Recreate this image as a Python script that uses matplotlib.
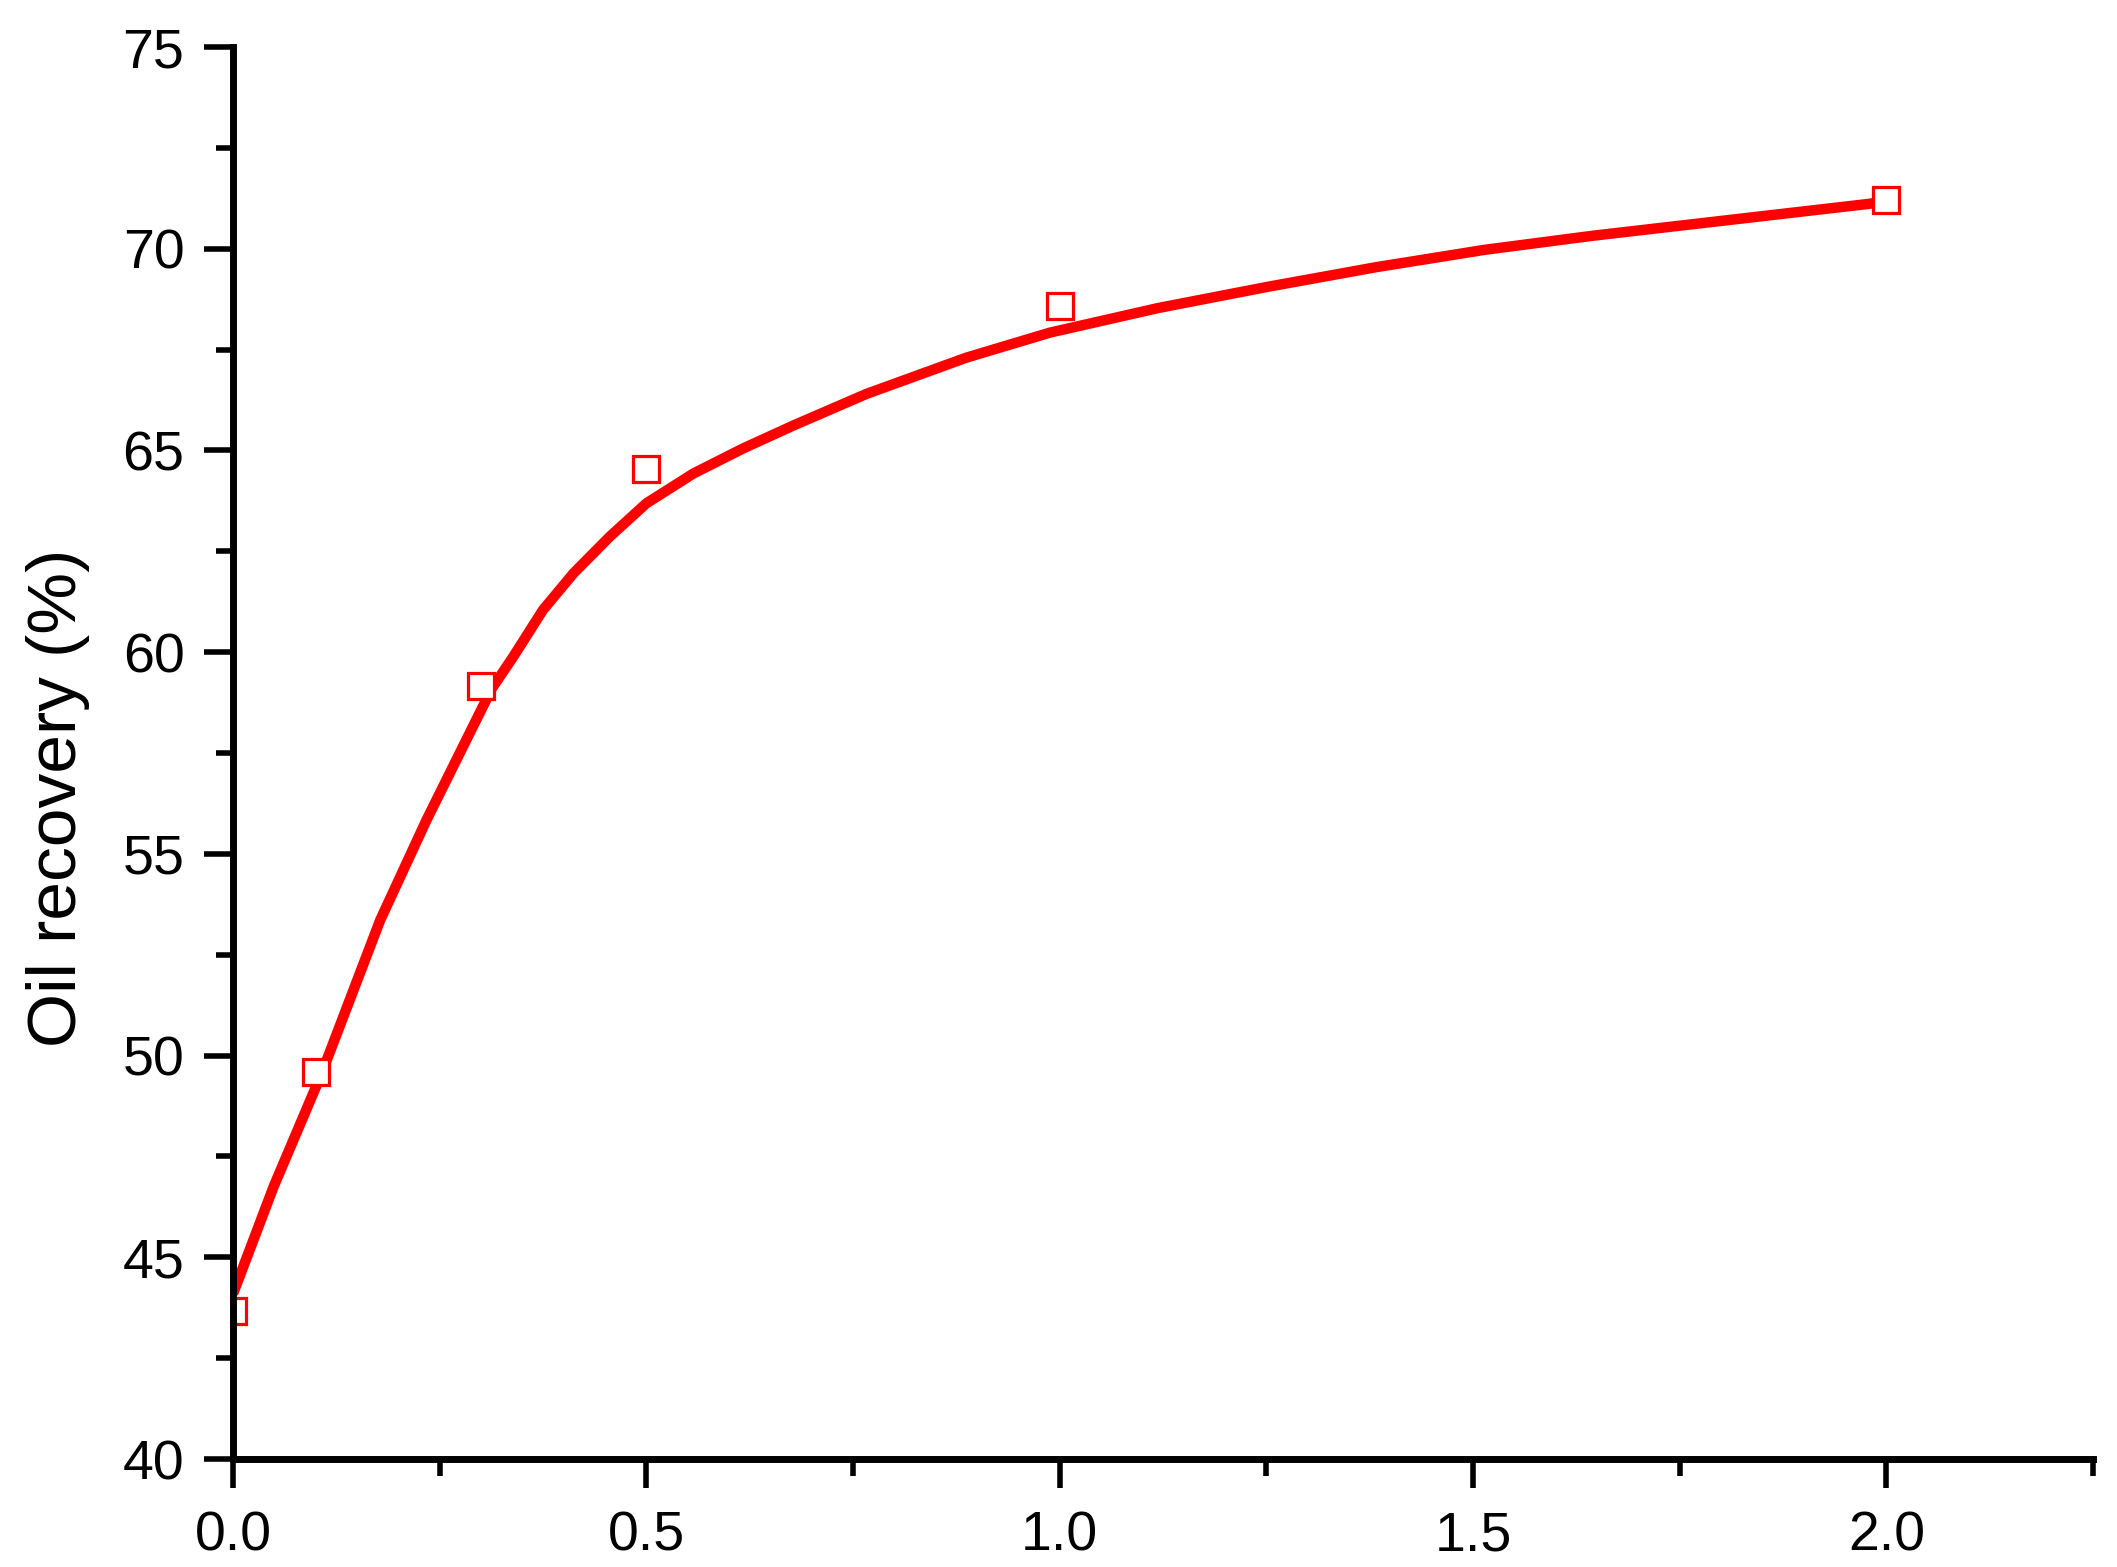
import matplotlib
matplotlib.use("Agg")
import matplotlib.pyplot as plt
from matplotlib.ticker import MultipleLocator, FormatStrFormatter

plt.rcParams['font.family'] = ['Liberation Sans', 'DejaVu Sans']

# measured points
conc = [0.0, 0.1, 0.3, 0.5, 1.0, 2.0]
recovery = [43.67, 49.6, 59.17, 64.53, 68.57, 71.21]

# fitted curve
fit_x = [0.0, 0.049, 0.107, 0.178, 0.234, 0.258, 0.313, 0.339, 0.375, 0.412,
         0.456, 0.500, 0.557, 0.617, 0.678, 0.766, 0.887, 0.988, 1.119, 1.250,
         1.382, 1.513, 1.644, 1.775, 1.906, 1.978, 2.0]
fit_y = [44.1, 46.75, 49.55, 53.36, 55.84, 56.83, 59.1, 59.89, 61.05, 61.96,
         62.87, 63.69, 64.43, 65.05, 65.62, 66.4, 67.3, 67.92, 68.53, 69.05,
         69.54, 69.97, 70.32, 70.63, 70.94, 71.11, 71.18]

fig = plt.figure(figsize=(21.17, 15.67), dpi=100)
ax = fig.add_axes([0.1101, 0.0689, 0.8786, 0.9011])

ax.plot(fit_x, fit_y, color='#ff0000', lw=7.5, solid_capstyle='butt',
        solid_joinstyle='round', zorder=2)
ax.plot(conc, recovery, ls='none', marker='s', ms=19, mew=2.3,
        mec='#ff0000', mfc='white', zorder=3)

ax.set_xlim(0, 2.25)
ax.set_ylim(40, 75)

ax.xaxis.set_major_locator(MultipleLocator(0.5))
ax.xaxis.set_minor_locator(MultipleLocator(0.25))
ax.yaxis.set_major_locator(MultipleLocator(5))
ax.yaxis.set_minor_locator(MultipleLocator(2.5))
ax.xaxis.set_major_formatter(FormatStrFormatter('%.1f'))
ax.yaxis.set_major_formatter(FormatStrFormatter('%d'))

for side in ['top', 'right']:
    ax.spines[side].set_visible(False)
for side in ['left', 'bottom']:
    ax.spines[side].set_linewidth(5)
    ax.spines[side].set_zorder(4)

ax.tick_params(which='major', direction='out', length=21, width=4,
               labelsize=40, color='black')
ax.tick_params(which='minor', direction='out', length=12, width=4)
ax.tick_params(axis='x', which='major', pad=16)
ax.tick_params(axis='y', which='major', pad=14)

ax.set_ylabel('Oil recovery (%)', fontsize=50)
ax.yaxis.set_label_coords(-0.077, 0.468)

fig.savefig('out.png', dpi=100)
